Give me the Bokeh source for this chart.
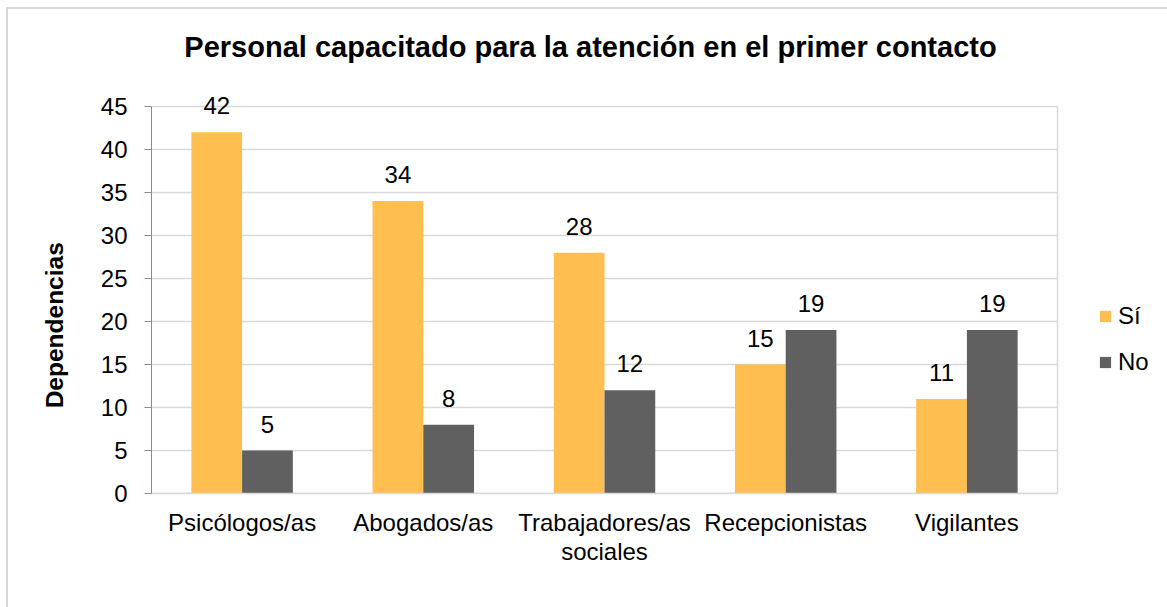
from bokeh.plotting import figure
from bokeh.models import (ColumnDataSource, Range1d, LabelSet, Label,
                          Legend, LegendItem, FixedTicker, InlineStyleSheet)
from bokeh.core.properties import value
from bokeh.embed import file_html
from bokeh.resources import INLINE

categories = ["Psicólogos/as", "Abogados/as", "Trabajadores/as sociales", "Recepcionistas", "Vigilantes"]
tick_labels = ["Psicólogos/as", "Abogados/as", "Trabajadores/as\nsociales", "Recepcionistas", "Vigilantes"]
si_values = [42, 34, 28, 15, 11]
no_values = [5, 8, 12, 19, 19]
series_names = ["Sí", "No"]
y_ticks = [0, 5, 10, 15, 20, 25, 30, 35, 40, 45]
title_text = "Personal capacitado para la atención en el primer contacto"
y_label = "Dependencias"

FONT = "Liberation Sans"
SI_COLOR = "#FFBE50"
NO_COLOR = "#606060"
GRID = "#d9d9d9"
BAR_W = 0.28
OFF = 0.14

pos = [i + 1 for i in range(len(categories))]
x_lo, x_hi = 0.5, len(categories) + 0.5
Y_MAX = y_ticks[-1]

src = ColumnDataSource(dict(
    x_si=[x - OFF for x in pos], x_no=[x + OFF for x in pos],
    si=si_values, no=no_values,
    si_t=[str(v) for v in si_values], no_t=[str(v) for v in no_values]))
grid_src = ColumnDataSource(dict(x0=[x_lo] * len(y_ticks), x1=[x_hi] * len(y_ticks), y=y_ticks))

# layout: the frame spans from the top of the canvas to the x axis and to the right edge,
# so that the title, the data labels and the legend are not clipped.
W, H = 1167, 607
left_px, right45_px, zero_px, top45_px = 151, 1057, 493, 106
y_end = Y_MAX * zero_px / (zero_px - top45_px)
x_end = x_lo + (x_hi - x_lo) * (W - left_px) / (right45_px - left_px)

p = figure(width=W, height=H, output_backend="svg", toolbar_location=None,
           x_range=Range1d(x_lo, x_end), y_range=Range1d(0, y_end),
           min_border_left=left_px, min_border_right=0, min_border_top=0,
           min_border_bottom=H - zero_px)
p.title.visible = False
p.background_fill_color = "white"
p.border_fill_color = "white"
p.outline_line_color = None
p.xgrid.visible = False
p.ygrid.visible = False

# plot-area gridlines and right edge
p.segment(x0="x0", y0="y", x1="x1", y1="y", source=grid_src, line_color=GRID,
          line_width=1.5, level="underlay")
p.segment(x0=[x_hi], y0=[0], x1=[x_hi], y1=[Y_MAX], line_color=GRID, line_width=1.5,
          level="underlay")

r_si = p.vbar(x="x_si", top="si", width=BAR_W, source=src, fill_color=SI_COLOR, line_color=None)
r_no = p.vbar(x="x_no", top="no", width=BAR_W, source=src, fill_color=NO_COLOR, line_color=None)

for xcol, col, txt in (("x_si", "si", "si_t"), ("x_no", "no", "no_t")):
    p.add_layout(LabelSet(x=xcol, y=col, text=txt, source=src,
                          y_offset=18, text_align="center", text_baseline="alphabetic",
                          text_font=value(FONT), text_font_size=value("24px"),
                          text_color="#000000"))

# value axis
p.yaxis.ticker = FixedTicker(ticks=y_ticks)
p.yaxis.bounds = (0, Y_MAX)
p.yaxis.major_label_text_font = FONT
p.yaxis.major_label_text_font_size = "24px"
p.yaxis.major_label_text_color = "#000000"
p.yaxis.axis_line_color = "#8c8c8c"
p.yaxis.major_tick_line_color = "#8c8c8c"
p.yaxis.major_tick_out = 7
p.yaxis.major_tick_in = 0
p.yaxis.minor_tick_line_color = None
p.yaxis.major_label_standoff = 17
# trailing no-break spaces keep the label centred on the plot area rather than the whole frame
p.yaxis.axis_label = y_label + "\u00a0" * 23
p.yaxis.axis_label_text_font = FONT
p.yaxis.axis_label_text_font_size = "24.5px"
p.yaxis.axis_label_text_font_style = "bold"
p.yaxis.axis_label_text_color = "#000000"
p.yaxis.axis_label_standoff = 30

# category axis
p.xaxis.ticker = FixedTicker(ticks=pos)
p.xaxis.bounds = (x_lo, x_hi)
p.xaxis.major_label_overrides = {x: lab for x, lab in zip(pos, tick_labels)}
p.xaxis.axis_line_color = GRID
p.xaxis.axis_line_width = 1.5
p.xaxis.major_tick_line_color = None
p.xaxis.minor_tick_line_color = None
p.xaxis.major_label_text_font = FONT
p.xaxis.major_label_text_font_size = "24px"
p.xaxis.major_label_text_color = "#000000"
p.xaxis.major_label_text_line_height = 1.1
p.xaxis.major_label_standoff = 9

# title
p.add_layout(Label(x=439, y=447, x_units="screen", y_units="screen", text=title_text,
                   text_align="center", text_baseline="alphabetic", text_font=FONT,
                   text_font_size="29px", text_font_style="bold", text_color="#000000"))

legend = Legend(items=[LegendItem(label=series_names[0], renderers=[r_si]),
                       LegendItem(label=series_names[1], renderers=[r_no])],
                location=(947, 117), orientation="vertical",
                glyph_width=14, glyph_height=14, label_height=28, spacing=18,
                label_standoff=6, padding=0, margin=0,
                border_line_color=None, background_fill_alpha=0,
                label_text_font=FONT, label_text_font_size="24px", label_text_color="#000000")
p.add_layout(legend, "center")

# outer chart border (partially outside the window, as in the reference)
p.stylesheets = [InlineStyleSheet(css="""
:host { position: relative; overflow: hidden; }
:host::after { content: ""; position: absolute; left: 6px; top: 7px; width: 1300px; height: 800px;
               border: 2px solid #d9d9d9; pointer-events: none; box-sizing: border-box; }
""")]

open("out.html", "w").write(file_html(p, INLINE))
